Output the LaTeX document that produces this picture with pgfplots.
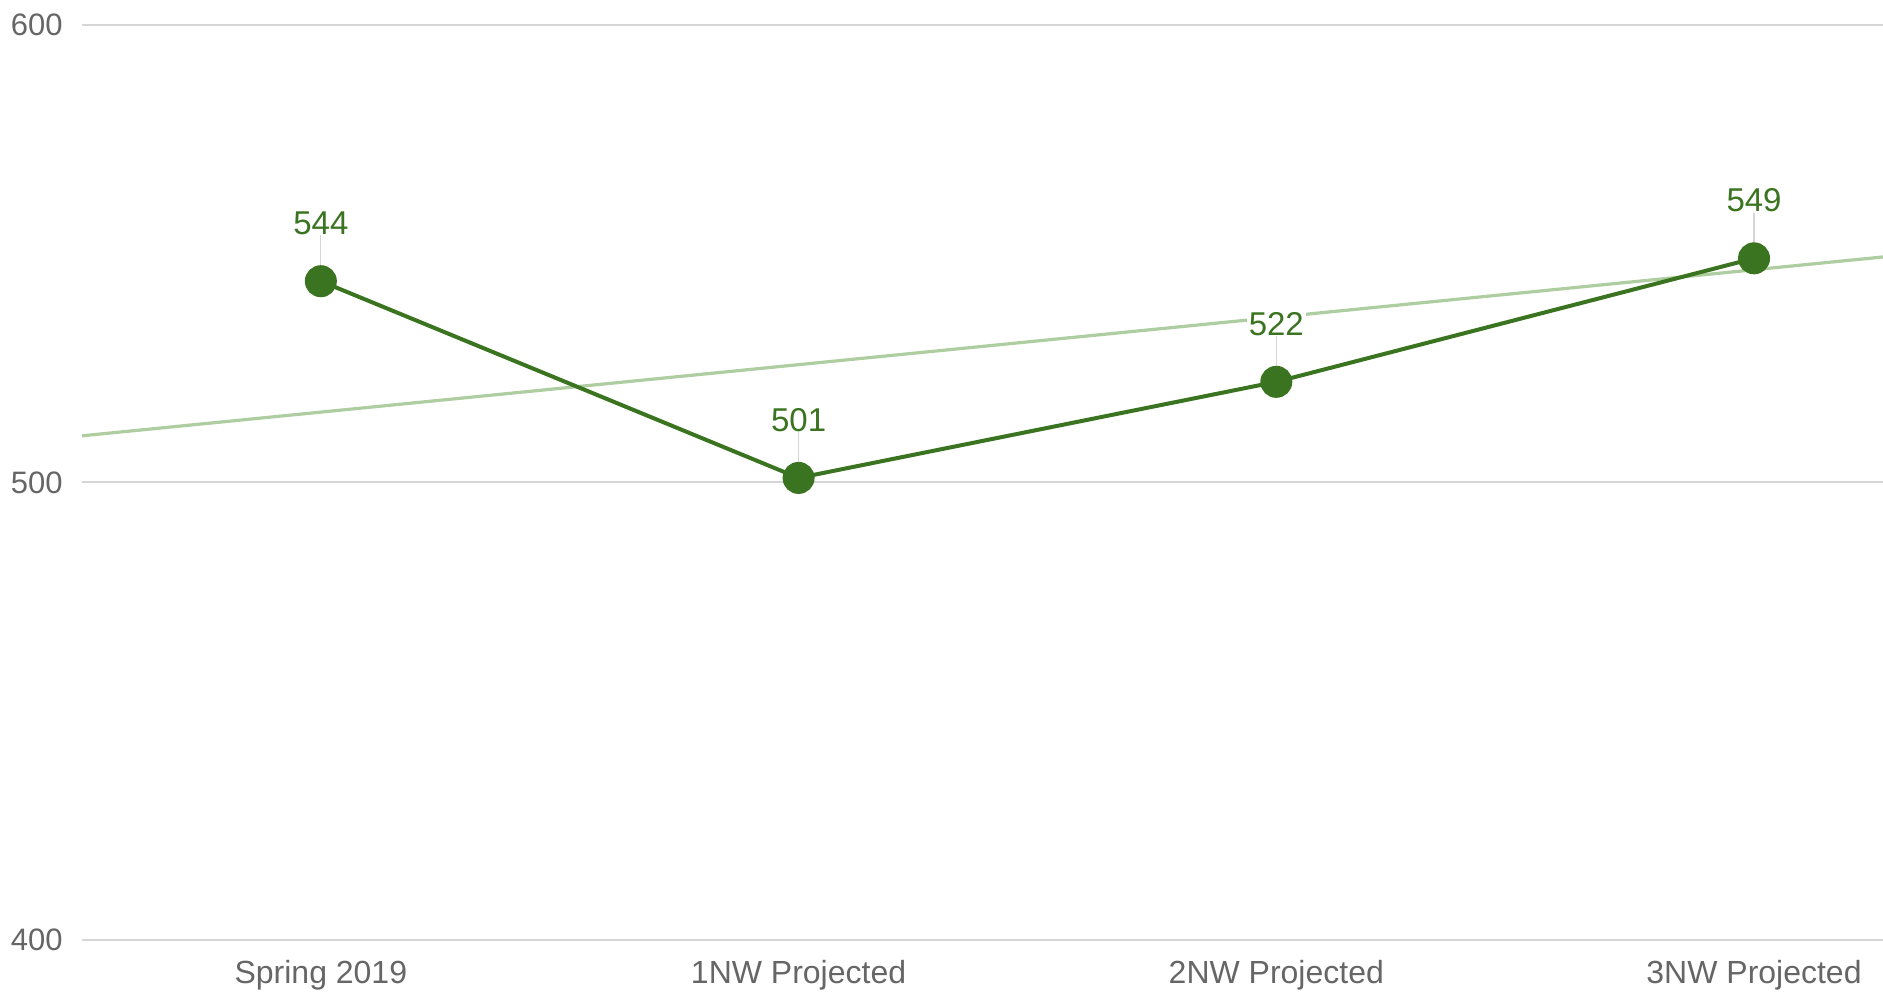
\documentclass[border=0pt]{standalone}
\usepackage{fontspec}
\setmainfont{Liberation Sans}
\usepackage{pgfplots}
\pgfplotsset{compat=1.18}
\definecolor{linegreen}{HTML}{3A7420}
\definecolor{trendgreen}{HTML}{AECDA0}
\definecolor{labelgray}{HTML}{666666}
\definecolor{gridgray}{HTML}{D6D6D6}
\begin{document}
\begin{tikzpicture}
% fix page size to the reference proportions (1px = 0.5bp)
\useasboundingbox (-41bp,-27.5bp) rectangle (900.5bp,470bp);
\begin{axis}[
    scale only axis,
    width=900.5bp,
    height=457.5bp,
    xmin=-0.5, xmax=3.27,
    ymin=400, ymax=600,
    xtick={0,1,2,3},
    xticklabels={Spring 2019,1NW Projected,2NW Projected,3NW Projected},
    ytick={400,500,600},
    ymajorgrids,
    grid style={gridgray,line width=1bp},
    axis line style={draw=none},
    major tick length=0pt,
    /pgf/number format/assume math mode=true,
    x tick label style={font=\fontsize{16bp}{19bp}\selectfont,text=labelgray,anchor=north,inner sep=0pt,yshift=-10bp},
    y tick label style={font=\fontsize{15.5bp}{18bp}\selectfont,text=labelgray,anchor=east,inner sep=0pt,xshift=-9.5bp},
    clip=true,
]
% trendline
\addplot[trendgreen,line width=1.6bp] coordinates {(-0.5,510.2) (3.27,549.3)};
% leader lines from the labels
\addplot[draw=none,mark=none,
    error bars/.cd,y dir=plus,y fixed=10,
    error bar style={gridgray,line width=0.6bp},error mark=none]
    coordinates {(0,544) (1,501) (2,522) (3,549)};
% main series
\addplot[linegreen,line width=2bp,mark=*,mark size=7bp,
    mark options={fill=linegreen,draw=linegreen},
    nodes near coords,
    every node near coord/.append style={font=\fontsize{16.5bp}{19bp}\selectfont,
        text=linegreen,anchor=south,inner sep=0pt,yshift=22bp,fill=white,
        inner xsep=1bp}]
    coordinates {(0,544) (1,501) (2,522) (3,549)};
\end{axis}
\end{tikzpicture}
\end{document}
